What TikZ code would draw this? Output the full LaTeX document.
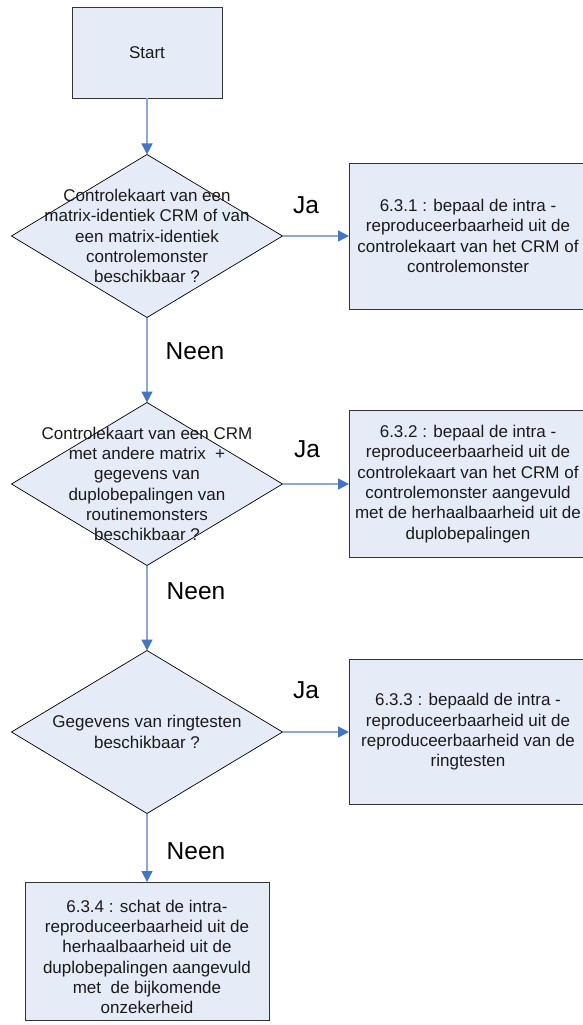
\documentclass[tikz,border=0pt]{standalone}
\usepackage{fontspec}
\setmainfont{Liberation Sans}
\usetikzlibrary{shapes.geometric,arrows.meta}
\definecolor{boxfill}{HTML}{E6ECF7}
\definecolor{edgecol}{HTML}{333333}
\definecolor{lineblue}{HTML}{8AA8D8}
\definecolor{headblue}{HTML}{4475C4}
\definecolor{txt}{HTML}{1A1A1A}
\tikzset{
  body/.style={font=\fontsize{17}{20.3}\selectfont, text=txt, align=center},
  procbox/.style={rectangle, draw=edgecol, line width=0.9pt, fill=boxfill, inner sep=0pt, outer sep=0pt, body},
  decision/.style={diamond, draw=black, line width=0.7pt, fill=boxfill, inner sep=0pt, outer sep=0pt, minimum width=271pt, minimum height=163pt},
  flow/.style={draw=lineblue, line width=1.4pt, -{Triangle[length=11pt,width=11pt,color=headblue]}},
  answer/.style={font=\fontsize{24.5}{28}\selectfont, text=black, inner sep=0pt}
}
\begin{document}
\begin{tikzpicture}[x=1pt,y=-1pt]
\useasboundingbox (0,0) rectangle (583,1025);
\clip (0,0) rectangle (583,1025);
\node[procbox, minimum width=150pt, minimum height=91pt] (start) at (147,52.5) {Start};
\node[decision, label={[body]center:Controlekaart van een\\matrix-identiek CRM of van\\een matrix-identiek\\controlemonster\\beschikbaar ?}] (d1) at (147,236) {};
\node[procbox, minimum width=238pt, minimum height=146pt] (b1) at (468,236) {6.3.1 : bepaal de intra -\\reproduceerbaarheid uit de\\controlekaart van het CRM of\\controlemonster};
\node[decision, label={[body]center:Controlekaart van een CRM\\met andere matrix \ +\\gegevens van\\duplobepalingen van\\routinemonsters\\beschikbaar ?}] (d2) at (147,484) {};
\node[procbox, minimum width=238pt, minimum height=147pt] (b2) at (468,484) {6.3.2 : bepaal de intra -\\reproduceerbaarheid uit de\\controlekaart van het CRM of\\controlemonster aangevuld\\met de herhaalbaarheid uit de\\duplobepalingen};
\node[decision, label={[body]center:Gegevens van ringtesten\\beschikbaar ?}] (d3) at (147,732) {};
\node[procbox, minimum width=238pt, minimum height=145pt] (b3) at (468,732) {6.3.3 : bepaald de intra -\\reproduceerbaarheid uit de\\reproduceerbaarheid van de\\ringtesten};
\node[procbox, minimum width=244pt, minimum height=138pt, label={[body, yshift=-6pt]center:6.3.4 : schat de intra-\\reproduceerbaarheid uit de\\herhaalbaarheid uit de\\duplobepalingen aangevuld\\met \ de bijkomende\\onzekerheid}] (b4) at (147,951) {};
\draw[flow] (start) -- (d1);
\draw[flow] (d1) -- (d2);
\draw[flow] (d2) -- (d3);
\draw[flow] (d3) -- (b4);
\draw[flow] (d1.east) -- (b1.west);
\draw[flow] (d2.east) -- (b2.west);
\draw[flow] (d3.east) -- (b3.west);
\node[answer] (ja1) at (306,205) {Ja};
\node[answer] (ja2) at (307,449) {Ja};
\node[answer] (ja3) at (306,690) {Ja};
\node[answer] (n1) at (195,351) {Neen};
\node[answer] (n2) at (196,591) {Neen};
\node[answer] (n3) at (196,851) {Neen};
\end{tikzpicture}
\end{document}
